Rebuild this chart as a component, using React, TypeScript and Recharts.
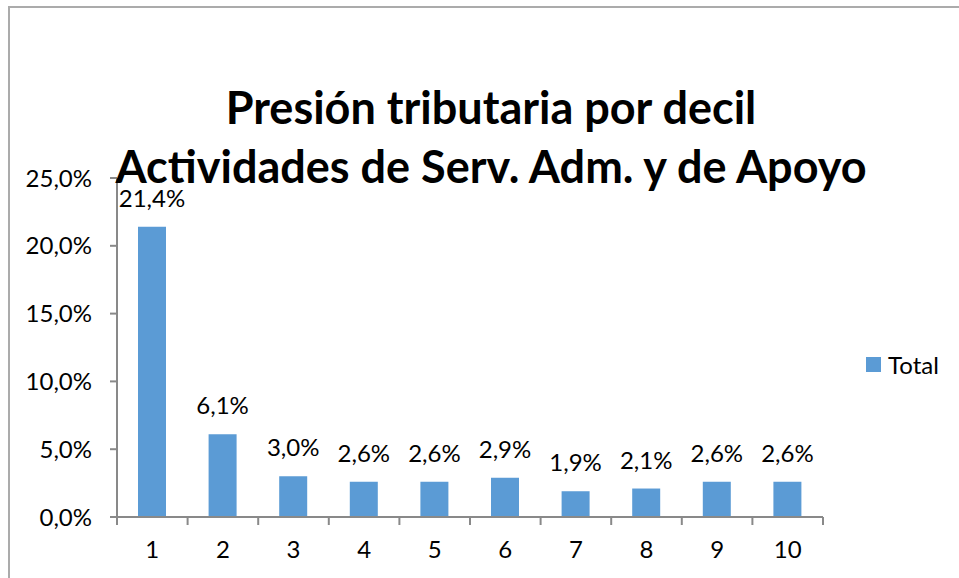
import React from 'react';
import { BarChart, Bar, XAxis, YAxis, LabelList } from 'recharts';

const categories = ['1', '2', '3', '4', '5', '6', '7', '8', '9', '10'];
const totals = [21.4, 6.1, 3.0, 2.6, 2.6, 2.9, 1.9, 2.1, 2.6, 2.6];
const yTicks = [0, 5, 10, 15, 20, 25];
const titleLines = ['Presión tributaria por decil', 'Actividades de Serv. Adm. y de Apoyo'];
const seriesName = 'Total';

const data = categories.map((c, i) => ({ decil: c, total: totals[i] }));

const FONT = 'Lato, "Open Sans", sans-serif';
const AXIS = '#898989';
const BAR = '#5B9BD5';
const PLOT_LEFT = 117;
const PLOT_RIGHT = 823;
const BAND = (PLOT_RIGHT - PLOT_LEFT) / categories.length;

const fmt = (v: number) => v.toFixed(1).replace('.', ',') + '%';

const XTick = (props: any) => {
  const { x, y, payload, index } = props;
  const half = BAND / 2;
  return (
    <g>
      <line x1={x - half} x2={x - half} y1={y} y2={y + 8} stroke={AXIS} strokeWidth={2} />
      {index === categories.length - 1 && (
        <line x1={x + half} x2={x + half} y1={y} y2={y + 8} stroke={AXIS} strokeWidth={2} />
      )}
      <text x={x} y={y + 41} textAnchor="middle" fontSize={24} fontFamily={FONT} fill="#000">
        {payload.value}
      </text>
    </g>
  );
};

export default function App() {
  return (
    <div style={{ position: 'absolute', left: 0, top: 0, width: 959, height: 578, background: '#fff', overflow: 'hidden' }}>
      <div
        style={{
          position: 'absolute',
          left: 8,
          top: 6,
          width: 960,
          height: 580,
          borderTop: '2px solid #ababab',
          borderLeft: '2px solid #ababab',
        }}
      />
      <BarChart
        width={959}
        height={578}
        data={data}
        margin={{ top: 178, right: 959 - PLOT_RIGHT, bottom: 21, left: 37 }}
        barSize={28}
        style={{ position: 'absolute', left: 0, top: 0 }}
      >
        <XAxis
          dataKey="decil"
          height={40}
          axisLine={{ stroke: AXIS, strokeWidth: 2 }}
          tickLine={false}
          tickSize={0}
          tickMargin={0}
          tick={<XTick />}
          interval={0}
        />
        <YAxis
          width={80}
          domain={[0, 25]}
          ticks={yTicks}
          tickFormatter={fmt}
          axisLine={{ stroke: AXIS, strokeWidth: 2 }}
          tickLine={{ stroke: AXIS, strokeWidth: 2 }}
          tickSize={7}
          tickMargin={18}
          tick={{ fontSize: 24, fontFamily: FONT, fill: '#000' }}
          allowDataOverflow
        />
        <Bar dataKey="total" name={seriesName} fill={BAR} isAnimationActive={false}>
          <LabelList
            dataKey="total"
            position="top"
            offset={20}
            formatter={(v: any) => fmt(Number(v))}
            style={{ fontSize: 24, fontFamily: FONT, fill: '#000' }}
          />
        </Bar>
      </BarChart>
      <div
        style={{
          position: 'absolute',
          left: 866,
          top: 350,
          display: 'flex',
          alignItems: 'center',
          fontFamily: FONT,
          fontSize: 24,
          color: '#000',
          whiteSpace: 'nowrap',
        }}
      >
        <span style={{ width: 15, height: 15, background: BAR, display: 'inline-block', marginRight: 7 }} />
        <span>{seriesName}</span>
      </div>
      <svg
        width={959}
        height={578}
        style={{ position: 'absolute', left: 0, top: 0, pointerEvents: 'none' }}
      >
        <text x={491} y={124} textAnchor="middle" fontFamily={FONT} fontWeight={700} fontSize={45} fill="#000">
          {titleLines[0]}
        </text>
        <text x={491} y={183} textAnchor="middle" fontFamily={FONT} fontWeight={700} fontSize={45} fill="#000">
          {titleLines[1]}
        </text>
      </svg>
    </div>
  );
}
